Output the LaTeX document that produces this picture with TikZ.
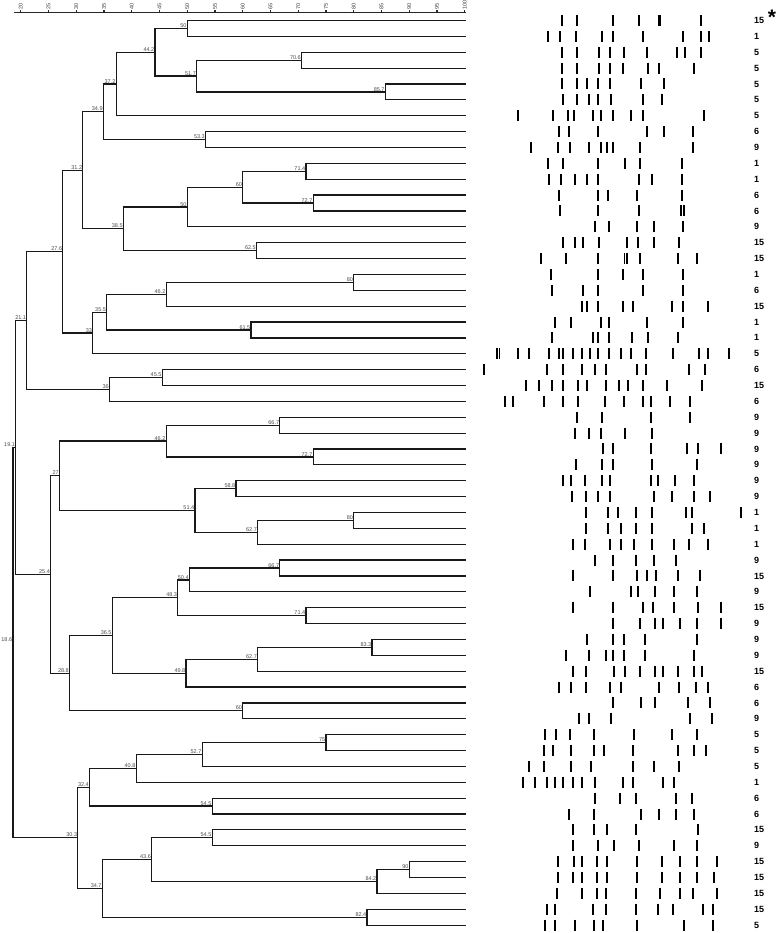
\documentclass[tikz,border=0pt]{standalone}
\usepackage{fontspec}
\setmainfont{Liberation Sans}
\usetikzlibrary{calc}
\tikzset{
  br/.style={line width=1.2pt, draw=black!90, line cap=rect},
  band/.style={line width=1.7pt, draw=black},
  nl/.style={font=\fontsize{5.5}{6}\selectfont, text=black!70, anchor=south east, inner sep=0.6pt},
  lab/.style={font=\fontsize{9}{10}\selectfont\bfseries, anchor=west, inner sep=0pt},
  axl/.style={font=\fontsize{5.5}{6}\selectfont, rotate=90, anchor=west, inner sep=0.6pt, text=black!75},
  axline/.style={line width=1.1pt, draw=black!85}
}
\newcommand\bandrow[3]{%
  \pgfmathsetmacro\yy{20.5+15.87*(#1-1)}%
  \coordinate (L#1) at (465,\yy);
  \foreach \bx in {#3} {\draw[band] (\bx,\yy-5.5) -- (\bx,\yy+5.5);}
  \node[lab] (lab#1) at (754,\yy) {#2};
}
\newcommand\jn[4]{%
  \path let \p1=(#3), \p2=(#4) in coordinate (#1) at ({(20.7+5.55*(#2-20))*1pt},{0.5*(\y1+\y2)});
  \draw[br] (#3) -| (#1) |- (#4);
  \node[nl] (t#1) at (#1) {#2};
}
\begin{document}
\begin{tikzpicture}[x=1pt,y=-1pt]
\useasboundingbox[fill=white] (0,0) rectangle (777,933);
% axis
\draw[axline] (14,12.7) -- (466,12.7);
\foreach \v in {20,25,...,100} {
  \pgfmathsetmacro\ax{20.7+5.55*(\v-20)}
  \draw[axline] (\ax,10.2) -- (\ax,12.7);
  \node[axl] (ax\v) at (\ax,10.2) {\v};
}
% bands and labels
\bandrow{1}{15}{561.7,577.3,613.3,639,659,660.2,701}
\bandrow{2}{1}{548.3,560,575.7,601.7,612.7,642.7,683.3,700.7,709.3}
\bandrow{3}{5}{562.3,577.3,599,610,624,647.3,677.3,685,701}
\bandrow{4}{5}{562.3,577.3,599,610,623.3,648.3,659,694}
\bandrow{5}{5}{562.3,577.3,586.7,598.3,610,640.7,664}
\bandrow{6}{5}{563.3,577.3,589,598.3,610.7,643.3,662.3}
\bandrow{7}{5}{518.3,552.7,567.7,574.3,593.3,600.7,612.7,631,642.7,704}
\bandrow{8}{6}{559.3,569.3,597.7,646.7,664,693.3}
\bandrow{9}{9}{531,557.7,570,589,600.7,606.7,612.7,640,693.3}
\bandrow{10}{1}{548.3,562.7,597.7,625,640,682.3}
\bandrow{11}{1}{549,561,575,586.7,598.3,639.3,651.7,682.3}
\bandrow{12}{6}{559,597.7,608.3,636.7,681.7}
\bandrow{13}{6}{560,597.7,639,681,683.8}
\bandrow{14}{9}{595,609.3,636.7,654.3,683.3}
\bandrow{15}{15}{562.7,575,583.3,599,626.7,638.3,654.3,679}
\bandrow{16}{15}{541,565.7,598.3,624.5,627,640,678.3,697.3}
\bandrow{17}{1}{551,598.3,623.3,642.7,683.3}
\bandrow{18}{6}{552.3,583.3,598.3,642.7,683.3}
\bandrow{19}{15}{582.3,586.7,598.3,623.3,632.7,671.7,683.3,707.7}
\bandrow{20}{1}{555,571,600.7,609.3,647.3,683.3}
\bandrow{21}{1}{551.7,593.3,597.7,609.3,631.7,648.3,677.7}
\bandrow{22}{5}{496.8,499.5,518.3,529.3,549,559.3,563.3,572.7,581.7,590,598.3,609.3,620.7,631,646,673.3,699.3,707.7,729.3}
\bandrow{23}{6}{484,547.3,562.7,582.3,595,606,636.7,646,689,705}
\bandrow{24}{15}{525.7,539.3,551.7,562.7,577.7,586.7,606,619.3,628.3,643.3,666.7,701.7}
\bandrow{25}{6}{505,513.3,544,562.7,578.3,605,624,642.7,651,670,690}
\bandrow{26}{9}{577.3,602.3,650.7,690}
\bandrow{27}{9}{575,589,600.7,625,652.3}
\bandrow{28}{9}{602.7,612.7,651,686.7,698.3,720.7}
\bandrow{29}{9}{575.7,602.3,612.7,651.7,696.7}
\bandrow{30}{9}{562.7,571,585,601.7,610,651,657.7,675,694.3}
\bandrow{31}{9}{571.7,586,598.3,610,654.3,672.3,694,710}
\bandrow{32}{1}{585.7,608.3,617.7,636,651.7,686,691.7,741}
\bandrow{33}{1}{585.7,608.3,621,636,651.7,691.7,704.3}
\bandrow{34}{1}{573.3,585,610,621,634.3,651.7,674.3,689.3,708.3}
\bandrow{35}{9}{595,613.3,636,654.3,675.7}
\bandrow{36}{15}{573.3,613.3,636.7,646.7,656,678.3,700}
\bandrow{37}{9}{590,630.7,638.3,655,674,697.3}
\bandrow{38}{15}{573.3,613.3,642.7,652.7,674,697.7,720.7}
\bandrow{39}{9}{613.3,640,655,662.7,680,697.3,720.7}
\bandrow{40}{9}{586.7,612.7,624,645,696.7}
\bandrow{41}{9}{565.7,589,606,612.7,624,645,694.3}
\bandrow{42}{15}{573.3,586,614.3,625,640,655,663.3,678.3,694,701.7}
\bandrow{43}{6}{559.3,571,586,610,621,659.3,679.3,696,707.7}
\bandrow{44}{6}{613.3,640.7,655,687.7,710}
\bandrow{45}{9}{579,589,610.7,690,711.7}
\bandrow{46}{5}{545,556,570,594,634.3,671.7,696.7}
\bandrow{47}{5}{544,552.7,570.7,594,604.3,632.7,678.3,694,705.7}
\bandrow{48}{5}{529,544,570.7,591,632.7,654.3,679}
\bandrow{49}{1}{523.3,535,546.7,555,562.7,573.3,582.3,595,622.7,632.7,663.3,674}
\bandrow{50}{6}{595,620,635.7,675.7,692.3}
\bandrow{51}{6}{569.3,594,640.7,659.3,675.7,694}
\bandrow{52}{15}{572.7,594,606.7,635.7,698.3}
\bandrow{53}{9}{573.3,598.3,614.3,639,674,697.3}
\bandrow{54}{15}{558.3,574,582.3,596.7,606.7,636.7,662.3,680,696.7,716.7}
\bandrow{55}{15}{558.3,573.3,582.3,596.7,606.7,636.7,662.3,680,696.7,714}
\bandrow{56}{15}{556.7,581.7,596.7,605.7,635.7,660,680,693.3,716.7}
\bandrow{57}{15}{546.7,555,593.3,605.7,636,658.3,673.3,703.3,713.3}
\bandrow{58}{5}{545,555,575,594.3,602.7,636.7,684.3,712.7}
\node[font=\fontsize{21}{21}\selectfont\bfseries, inner sep=0pt] (ast) at (772,17.5) {*};
% dendrogram
\jn{a1}{50}{L1}{L2}
\jn{a2}{70.6}{L3}{L4}
\jn{a3}{85.7}{L5}{L6}
\jn{a4}{51.7}{a2}{a3}
\jn{a5}{44.2}{a1}{a4}
\jn{a6}{37.2}{a5}{L7}
\jn{a7}{53.3}{L8}{L9}
\jn{a8}{34.9}{a6}{a7}
\jn{b1}{71.4}{L10}{L11}
\jn{b2}{72.7}{L12}{L13}
\jn{b3}{60}{b1}{b2}
\jn{b4}{50}{b3}{L14}
\jn{b5}{62.5}{L15}{L16}
\jn{b6}{38.5}{b4}{b5}
\jn{c1}{31.2}{a8}{b6}
\jn{c2}{80}{L17}{L18}
\jn{c3}{46.2}{c2}{L19}
\jn{c4}{61.5}{L20}{L21}
\jn{c5}{35.5}{c3}{c4}
\jn{c6}{33}{c5}{L22}
\jn{c7}{27.6}{c1}{c6}
\jn{d1}{45.5}{L23}{L24}
\jn{d2}{36}{d1}{L25}
\jn{d3}{21.1}{c7}{d2}
\jn{e1}{66.7}{L26}{L27}
\jn{e2}{72.7}{L28}{L29}
\jn{e3}{46.2}{e1}{e2}
\jn{e4}{58.8}{L30}{L31}
\jn{e5}{80}{L32}{L33}
\jn{e6}{62.7}{e5}{L34}
\jn{e7}{51.4}{e4}{e6}
\jn{e8}{27}{e3}{e7}
\jn{f1}{66.7}{L35}{L36}
\jn{f2}{50.4}{f1}{L37}
\jn{f3}{71.4}{L38}{L39}
\jn{f4}{48.3}{f2}{f3}
\jn{f5}{83.3}{L40}{L41}
\jn{f6}{62.7}{f5}{L42}
\jn{f7}{49.8}{f6}{L43}
\jn{f8}{36.5}{f4}{f7}
\jn{f9}{60}{L44}{L45}
\jn{f10}{28.8}{f8}{f9}
\jn{g1}{25.4}{e8}{f10}
\jn{g2}{19.1}{d3}{g1}
\jn{h1}{75}{L46}{L47}
\jn{h2}{52.7}{h1}{L48}
\jn{h3}{40.8}{h2}{L49}
\jn{h4}{54.5}{L50}{L51}
\jn{h5}{32.4}{h3}{h4}
\jn{h6}{54.5}{L52}{L53}
\jn{h7}{90}{L54}{L55}
\jn{h8}{84.2}{h7}{L56}
\jn{h9}{43.6}{h6}{h8}
\jn{h10}{82.4}{L57}{L58}
\jn{h11}{34.7}{h9}{h10}
\jn{h12}{30.3}{h5}{h11}
\jn{root}{18.6}{g2}{h12}
\end{tikzpicture}
\end{document}
